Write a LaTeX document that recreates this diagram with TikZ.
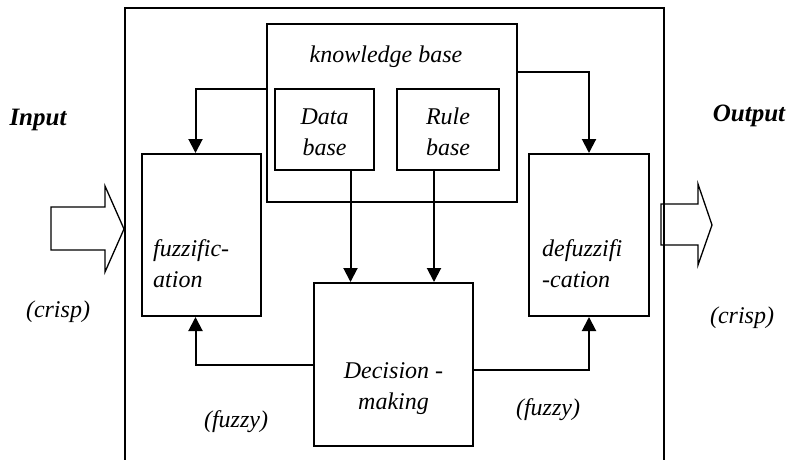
\documentclass[tikz,border=0pt]{standalone}
\usepackage{fontspec}
\setmainfont{Liberation Serif}
\usetikzlibrary{positioning,arrows.meta}

\begin{document}
\begin{tikzpicture}[x=1pt, y=-1pt,
  blk/.style={draw, line width=2pt, inner sep=0pt},
  lbl/.style={font=\fontsize{24}{31}\selectfont\itshape, inner sep=0pt},
  io/.style={font=\fontsize{25}{30}\selectfont\bfseries\itshape, inner sep=0pt},
  arr/.style={-{Triangle[length=14pt, width=14pt]}, line width=2pt},
  fat/.style={draw, line width=1.3pt, line join=miter}
]
  \useasboundingbox (0,0) rectangle (789,460);

  % Outer frame (open at the bottom)
  \draw[line width=2pt] (125,460) -- (125,8) -- (664,8) -- (664,460);

  % Knowledge base (top)
  \node[blk, minimum width=250pt, minimum height=178pt] (kb) at (392,113) {};
  \node[lbl] (kbt) at (386,57) {knowledge base};
  \node[blk, minimum width=99pt, minimum height=81pt] (data) at (324.5,129.5) {};
  \node[lbl, align=center] (datat) at (324.5,132) {Data\\base};
  \node[blk, minimum width=102pt, minimum height=81pt] (rule) at (448,129.5) {};
  \node[lbl, align=center] (rulet) at (448,132) {Rule\\base};

  % Fuzzification (left)
  \node[blk, minimum width=119pt, minimum height=162pt] (fuzz) at (201.5,235) {};
  \node[lbl, align=left, anchor=west] (fuzzt) at (153,264) {fuzzific-\\ation};

  % Defuzzification (right)
  \node[blk, minimum width=120pt, minimum height=162pt] (defuzz) at (589,235) {};
  \node[lbl, align=left, anchor=west] (defuzzt) at (542,264) {defuzzifi\\-cation};

  % Decision-making (bottom)
  \node[blk, minimum width=159pt, minimum height=163pt] (dec) at (393.5,364.5) {};
  \node[lbl, align=center] (dect) at (393.5,389) {Decision -\\making};

  % Connectors
  \draw[arr] ([yshift=24pt]kb.west) -| ([xshift=-6pt]fuzz.north);
  \draw[arr] ([yshift=41pt]kb.east) -| (defuzz.north);
  \draw[arr] ([xshift=26pt]data.south) -- ([xshift=26pt]data.south |- dec.north);
  \draw[arr] ([xshift=-14pt]rule.south) -- ([xshift=-14pt]rule.south |- dec.north);
  \draw[arr] (dec.west) -| ([xshift=-6pt]fuzz.south);
  \draw[arr] ([yshift=-5.5pt]dec.east) -| (defuzz.south);

  % Input / output
  \draw[fat] (51,207) -- (105,207) -- (105,186) -- (124,229) -- (105,272)
    -- (105,250) -- (51,250) -- cycle;
  \draw[fat] (661,204) -- (698,204) -- (698,184) -- (712,225) -- (698,265)
    -- (698,245) -- (661,245) -- cycle;
  \node[io] (in) at (38,120) {Input};
  \node[io] (out) at (749,116) {Output};
  \node[lbl] (crispin) at (58,312) {(crisp)};
  \node[lbl] (crispout) at (742,318) {(crisp)};
  \node[lbl] (fuzzyin) at (236,422) {(fuzzy)};
  \node[lbl] (fuzzyout) at (548,410) {(fuzzy)};
\end{tikzpicture}
\end{document}
